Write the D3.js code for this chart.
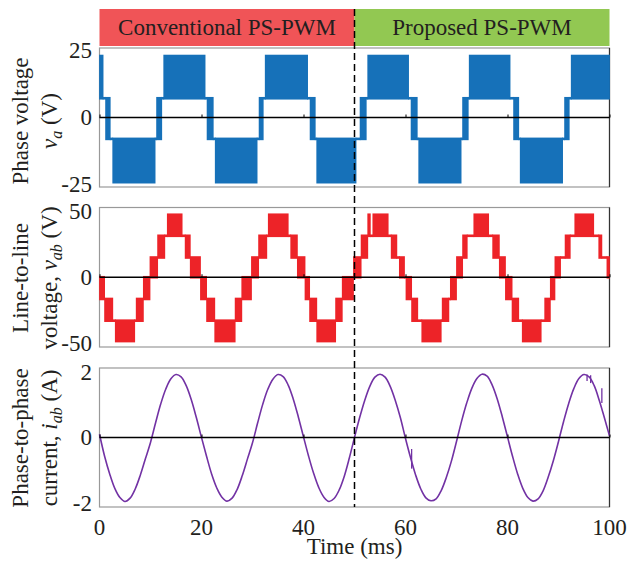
<!DOCTYPE html>
<html>
<head>
<meta charset="utf-8">
<script src="https://cdn.jsdelivr.net/npm/d3@7"></script>
<style>
  body { margin: 0; background: #fff; }
  svg { display: block; }
  text { font-family: 'Liberation Serif', 'Times New Roman', serif; fill: #231f20; }
</style>
</head>
<body>
<svg width="639" height="566"></svg>
<script>
// ---- data ----
var timeTicks = [0, 20, 40, 60, 80, 100];
var methods = ['Conventional PS-PWM', 'Proposed PS-PWM'];
var methodSpans = [[0, 50], [50, 100]];
var switchTime = 50;

// phase voltage v_a: [t0 (ms), t1 (ms), low (V), high (V)] -- high != low means switching band
var vaSegments = [
    [0.0, 0.7, 7.2, 23], [0.7, 1.2, 7.2, 7.2], [1.2, 2.1, -8, 7.2], [2.1, 2.6, -8, -8],
    [2.6, 10.9, -24.2, -8], [10.9, 11.2, -8, -8], [11.2, 12.2, -8, 7.2], [12.2, 12.6, 7.2, 7.2],
    [12.6, 20.7, 7.2, 23], [20.7, 21.1, 7.2, 7.2], [21.1, 22.3, -8, 7.2], [22.3, 22.7, -8, -8],
    [22.7, 30.9, -24.2, -8], [30.9, 31.3, -8, -8], [31.3, 32.1, -8, 7.2], [32.1, 32.5, 7.2, 7.2],
    [32.5, 40.8, 7.2, 23], [40.8, 41.3, 7.2, 7.2], [41.3, 42.3, -8, 7.2], [42.3, 42.6, -8, -8],
    [42.6, 50.3, -24.2, -8],
    [50.3, 51.1, -8, -8], [51.1, 52.3, -8, 7.2], [52.3, 52.6, 7.2, 7.2], [52.6, 60.6, 7.2, 23],
    [60.6, 61.1, 7.2, 7.2], [61.1, 62.3, -8, 7.2], [62.3, 62.6, -8, -8], [62.6, 70.9, -24.2, -8],
    [70.9, 71.2, -8, -8], [71.2, 72.3, -8, 7.2], [72.3, 72.5, 7.2, 7.2], [72.5, 80.5, 7.2, 23],
    [80.5, 81.2, 7.2, 7.2], [81.2, 82.2, -8, 7.2], [82.2, 82.5, -8, -8], [82.5, 90.8, -24.2, -8],
    [90.8, 91.2, -8, -8], [91.2, 92.1, -8, 7.2], [92.1, 92.5, 7.2, 7.2], [92.5, 100, 7.2, 23]
];

// line-to-line voltage v_ab: [t0, t1, low, high]
var vabSegments = [
    [0.0, 1.0, -16.5, 0], [1.0, 2.6, -33, -16.5], [2.6, 3.1, -33, -33], [3.1, 6.9, -48.5, -33],
    [6.9, 7.2, -33, -33], [7.2, 8.6, -33, -16.5], [8.6, 9.9, -16.5, 0], [9.9, 11.4, 0, 15],
    [11.4, 12.8, 15, 31.5], [12.8, 13.3, 31.5, 31.5], [13.3, 16.2, 31.5, 47.5], [16.2, 16.8, 31.5, 31.5],
    [16.8, 17.8, 15, 31.5], [17.8, 19.8, 0, 15], [19.8, 21.0, -16.5, 0], [21.0, 22.6, -33, -16.5],
    [22.6, 26.6, -48.5, -33], [26.6, 27.9, -33, -16.5], [27.9, 29.8, -16.5, 0], [29.8, 31.2, 0, 15],
    [31.2, 32.8, 15, 31.5], [32.8, 33.1, 31.5, 31.5], [33.1, 37.0, 31.5, 47.5], [37.0, 37.5, 31.5, 31.5],
    [37.5, 38.8, 15, 31.5], [38.8, 40.3, 0, 15], [40.3, 41.2, -16.5, 0], [41.2, 42.6, -33, -16.5],
    [42.6, 46.3, -48.5, -33], [46.3, 47.6, -33, -16.5], [47.6, 49.8, -16.5, 0],
    [49.8, 51.3, 0, 15], [51.3, 52.6, 15, 31.5], [52.6, 53.1, 31.5, 47.5], [53.1, 53.6, 31.5, 31.5],
    [53.6, 56.6, 31.5, 47.5], [56.6, 57.2, 31.5, 31.5], [57.2, 58.3, 15, 31.5], [58.3, 58.8, 15, 15],
    [58.8, 59.8, 0, 15], [59.8, 60.1, 0, 0], [60.1, 61.2, -16.5, 0], [61.2, 62.4, -33, -16.5],
    [62.4, 63.2, -33, -33], [63.2, 67.0, -48.5, -33], [67.0, 67.2, -33, -33], [67.2, 68.5, -33, -16.5],
    [68.5, 68.8, -16.5, -16.5], [68.8, 70.0, -16.5, 0], [70.0, 71.2, 0, 15], [71.2, 72.1, 15, 31.5],
    [72.1, 73.4, 31.5, 31.5], [73.4, 76.3, 31.5, 47.5], [76.3, 77.1, 31.5, 31.5], [77.1, 78.4, 15, 31.5],
    [78.4, 79.6, 0, 15], [79.6, 80.9, -16.5, 0], [80.9, 82.2, -33, -16.5], [82.2, 82.9, -33, -33],
    [82.9, 86.6, -48.5, -33], [86.6, 87.3, -33, -33], [87.3, 88.4, -33, -16.5], [88.4, 89.3, -16.5, 0],
    [89.3, 90.4, 0, 15], [90.4, 91.3, 15, 15], [91.3, 92.3, 15, 31.5], [92.3, 93.2, 31.5, 31.5],
    [93.2, 96.9, 31.5, 47.5], [96.9, 97.9, 31.5, 31.5], [97.9, 98.5, 15, 31.5], [98.5, 99.5, 15, 15],
    [99.5, 100, 0, 15]
];

// phase-to-phase current i_ab, one sample per ms from 0 to 100 ms
var iabValues = [
    0.10, -0.57, -1.11, -1.55, -1.83, -1.95, -1.85, -1.57, -1.15, -0.65,
    -0.15, 0.45, 1.02, 1.48, 1.79, 1.92, 1.85, 1.58, 1.15, 0.60,
    0.00, -0.58, -1.12, -1.54, -1.82, -1.94, -1.85, -1.58, -1.16, -0.66,
    -0.16, 0.44, 1.01, 1.47, 1.78, 1.92, 1.86, 1.60, 1.17, 0.62,
    0.02, -0.57, -1.10, -1.53, -1.82, -1.95, -1.86, -1.60, -1.18, -0.62,
    0.00, 0.60, 1.13, 1.56, 1.84, 1.93, 1.84, 1.56, 1.13, 0.60,
    -0.03, -0.62, -1.15, -1.57, -1.84, -1.93, -1.87, -1.62, -1.22, -0.72,
    -0.12, 0.50, 1.05, 1.50, 1.80, 1.93, 1.87, 1.60, 1.17, 0.62,
    0.02, -0.58, -1.12, -1.55, -1.83, -1.94, -1.87, -1.62, -1.20, -0.70,
    -0.12, 0.49, 1.04, 1.49, 1.80, 1.92, 1.85, 1.58, 1.13, 0.60,
    0.05
];
// short glitches on the current trace: [t, from, to]
var iabSpikes = [[61.2, -0.35, -0.95], [95.6, 1.92, 1.72], [96.3, 1.90, 1.66], [98.5, 1.50, 1.05]];

// ---- layout ----
var svg = d3.select('svg');
var plotL = 99.5, plotR = 609.5;
var x = d3.scaleLinear().domain([0, 100]).range([plotL, plotR]);

var panels = [
    { top: 48, bottom: 187, lim: 26, ticks: [-25, 0, 25], color: '#1671b9',
      label1: 'Phase voltage', sym: 'v', sub: 'a', unit: ' (V)', pre: '', cy: 121 },
    { top: 207.5, bottom: 347, lim: 53, ticks: [-50, 0, 50], color: '#ed2328',
      label1: 'Line-to-line', sym: 'v', sub: 'ab', unit: ' (V)', pre: 'voltage, ', cy: 278 },
    { top: 368, bottom: 507, lim: 2.12, ticks: [-2, 0, 2], color: '#7232a4',
      label1: 'Phase-to-phase', sym: 'i', sub: 'ab', unit: ' (A)', pre: 'current,  ', cy: 438 }
];
panels.forEach(function(p) {
    p.y = d3.scaleLinear().domain([-p.lim, p.lim]).range([p.bottom, p.top]);
});

// banner
var bannerColors = ['#f05457', '#92c852'];
methods.forEach(function(m, i) {
    svg.append('rect')
        .attr('x', x(methodSpans[i][0]))
        .attr('y', 9)
        .attr('width', x(methodSpans[i][1]) - x(methodSpans[i][0]))
        .attr('height', 37)
        .attr('fill', bannerColors[i]);
    svg.append('text')
        .attr('x', (x(methodSpans[i][0]) + x(methodSpans[i][1])) / 2)
        .attr('y', 35)
        .attr('text-anchor', 'middle')
        .style('font-size', '23px')
        .text(m);
});

function drawSegments(g, p, segs) {
    g.selectAll('rect.seg')
        .data(segs)
        .enter()
        .append('rect')
        .attr('class', 'seg')
        .attr('x', d => x(d[0]) - 0.4)
        .attr('width', d => x(d[1]) - x(d[0]) + 0.8)
        .attr('y', d => p.y(d[3]) - 1.3)
        .attr('height', d => p.y(d[2]) - p.y(d[3]) + 2.6)
        .attr('fill', p.color);
}

panels.forEach(function(p, k) {
    var g = svg.append('g');

    // frame
    g.append('rect')
        .attr('x', plotL).attr('y', p.top)
        .attr('width', plotR - plotL).attr('height', p.bottom - p.top)
        .attr('fill', 'none').attr('stroke', '#999').attr('stroke-width', 1.2);
    g.append('line')
        .attr('x1', plotR).attr('x2', plotR).attr('y1', p.top).attr('y2', p.bottom)
        .attr('stroke', '#333').attr('stroke-width', 1.2);

    // waveform
    if (k === 0) drawSegments(g, p, vaSegments);
    if (k === 1) drawSegments(g, p, vabSegments);
    if (k === 2) {
        var line = d3.line()
            .x((d, i) => x(i))
            .y(d => p.y(d))
            .curve(d3.curveCatmullRom);
        g.append('path')
            .datum(iabValues)
            .attr('d', line)
            .attr('fill', 'none')
            .attr('stroke', p.color)
            .attr('stroke-width', 1.6);
        g.selectAll('line.spike')
            .data(iabSpikes)
            .enter()
            .append('line')
            .attr('x1', d => x(d[0])).attr('x2', d => x(d[0]))
            .attr('y1', d => p.y(d[1])).attr('y2', d => p.y(d[2]))
            .attr('stroke', p.color).attr('stroke-width', 1.3);
    }

    // zero line with small ticks (x-axis at origin)
    g.append('line')
        .attr('x1', plotL).attr('x2', plotR)
        .attr('y1', p.y(0)).attr('y2', p.y(0))
        .attr('stroke', '#000').attr('stroke-width', 1.3);
    var zeroAxis = g.append('g')
        .attr('transform', 'translate(0,' + p.y(0) + ')')
        .call(d3.axisTop(x).tickValues(timeTicks).tickSize(3).tickFormat(''));
    zeroAxis.select('.domain').remove();
    zeroAxis.selectAll('line').attr('stroke', '#000');

    // y tick labels
    g.selectAll('text.ytick')
        .data(p.ticks)
        .enter()
        .append('text')
        .attr('class', 'ytick')
        .attr('x', 92)
        .attr('y', d => p.y(d))
        .attr('dy', '0.34em')
        .attr('text-anchor', 'end')
        .style('font-size', '23px')
        .text(d => d);

    // y axis title (two lines)
    g.append('text')
        .attr('transform', 'translate(28,' + p.cy + ')rotate(-90)')
        .attr('text-anchor', 'middle')
        .style('font-size', '23px')
        .text(p.label1);
    var t2 = g.append('text')
        .attr('transform', 'translate(57,' + p.cy + ')rotate(-90)')
        .attr('text-anchor', 'middle')
        .style('font-size', '23px');
    t2.append('tspan').text(p.pre);
    t2.append('tspan').style('font-style', 'italic').text(p.sym);
    t2.append('tspan').style('font-style', 'italic').style('font-size', '16px')
        .attr('dy', 5).text(p.sub);
    t2.append('tspan').attr('dy', -5).text(p.unit);
});

// x tick labels and title
svg.selectAll('text.xtick')
    .data(timeTicks)
    .enter()
    .append('text')
    .attr('class', 'xtick')
    .attr('x', d => x(d))
    .attr('y', 535)
    .attr('text-anchor', 'middle')
    .style('font-size', '23px')
    .text(d => d);

svg.append('text')
    .attr('x', x(50))
    .attr('y', 554)
    .attr('text-anchor', 'middle')
    .style('font-size', '23px')
    .text('Time (ms)');

// dashed separator between the two methods
svg.append('line')
    .attr('x1', x(switchTime)).attr('x2', x(switchTime))
    .attr('y1', 9).attr('y2', 507)
    .attr('stroke', '#000')
    .attr('stroke-width', 1.5)
    .attr('stroke-dasharray', '7,4');
</script>
</body>
</html>
